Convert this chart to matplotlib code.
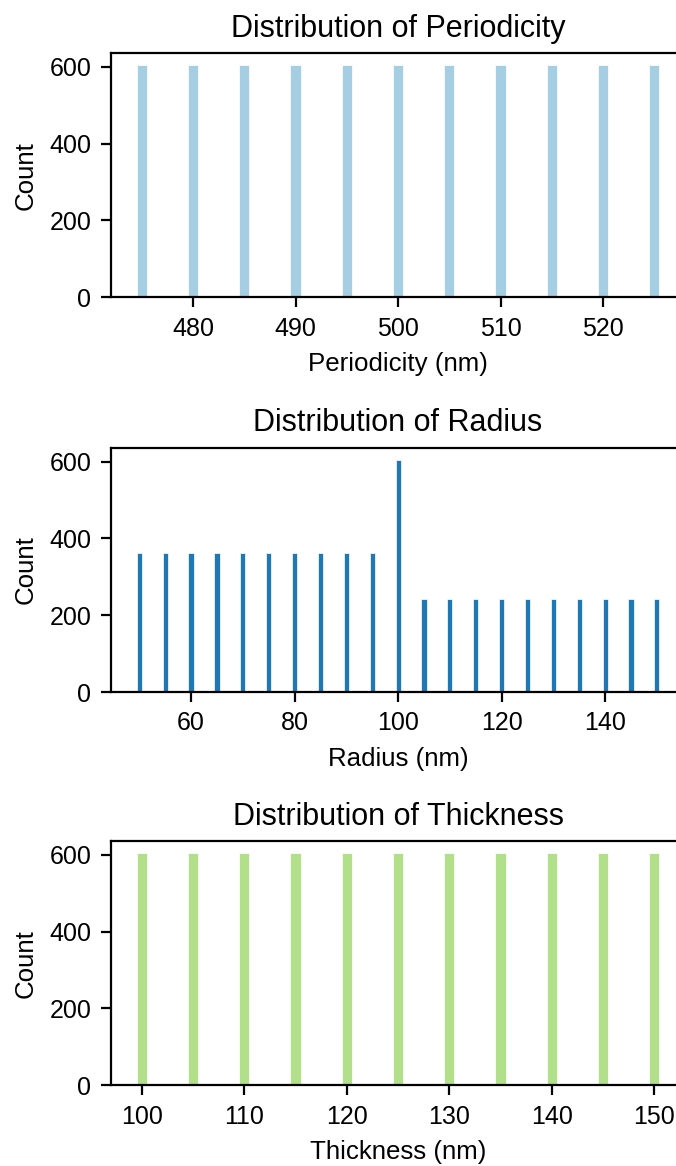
import numpy as np
import matplotlib.pyplot as plt

plt.rcParams['font.family'] = ['Liberation Sans', 'DejaVu Sans']

# histogram data (value -> count)
periodicity_values = [475, 480, 485, 490, 495, 500, 505, 510, 515, 520, 525]
periodicity_counts = [605, 605, 605, 605, 605, 605, 605, 605, 605, 605, 605]

radius_values = [50, 55, 60, 65, 70, 75, 80, 85, 90, 95, 100,
                 105, 110, 115, 120, 125, 130, 135, 140, 145, 150]
radius_counts = [363, 363, 363, 363, 363, 363, 363, 363, 363, 363, 605,
                 242, 242, 242, 242, 242, 242, 242, 242, 242, 242]

thickness_values = [100, 105, 110, 115, 120, 125, 130, 135, 140, 145, 150]
thickness_counts = [605, 605, 605, 605, 605, 605, 605, 605, 605, 605, 605]

panels = [
    ("Periodicity", periodicity_values, periodicity_counts, "#a6cee3"),
    ("Radius", radius_values, radius_counts, "#1f78b4"),
    ("Thickness", thickness_values, thickness_counts, "#b2df8a"),
]

W, H = 676, 1166
fig = plt.figure(figsize=(W / 200, H / 200), dpi=200)

bottoms_px = [297.3, 692.0, 1085.3]
for (name, vals, counts, color), bpx in zip(panels, bottoms_px):
    ax = fig.add_axes([110.6 / W, (H - bpx) / H, 575 / W, 244 / H])
    # discrete bins, one unit wide, centred on each value
    edges = np.arange(min(vals) - 0.5, max(vals) + 1.5, 1)
    ax.hist(vals, bins=edges, weights=counts, color=color,
            edgecolor="white", linewidth=0.25)
    ax.set_title(f"Distribution of {name}", fontsize=11)
    ax.set_xlabel(f"{name} (nm)", fontsize=9.3)
    ax.set_ylabel("Count", fontsize=9.3)
    ax.tick_params(labelsize=9)
    ax.set_yticks([0, 200, 400, 600])

fig.savefig("out.png", dpi=200)
